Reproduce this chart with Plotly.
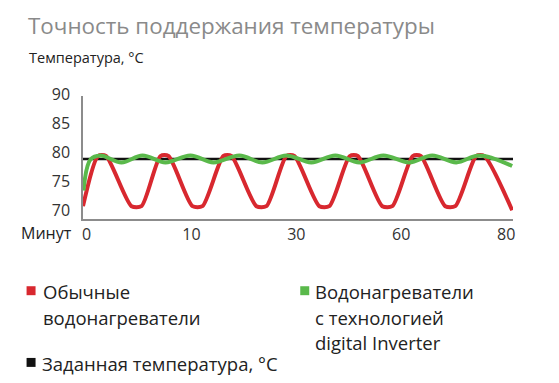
import plotly.graph_objects as go

# ---------------- data ----------------
title_text = "Точность поддержания температуры"
y_title = "Температура, °C"
x_title = "Минут"

tick_pos = [0, 20, 40, 60, 80]
tick_text = ["0", "10", "30", "60", "80"]
y_ticks = [70, 75, 80, 85, 90]

setpoint_x = [-0.67, 81.3]
setpoint_y = [79.2, 79.2]

red_x = [-0.67, 2.19, 3.71, 8.57, 10.48, 14.10, 15.62, 20.19, 22.10, 26.10, 27.62,
         32.38, 34.29, 38.10, 39.62, 44.38, 46.29, 50.19, 51.71, 56.38, 58.29,
         62.19, 63.71, 68.38, 70.29, 74.29, 75.81, 81.14]
red_y = [71.1, 79.7, 79.7, 71.1, 71.1, 79.7, 79.7, 71.1, 71.1, 79.7, 79.7,
         71.1, 71.1, 79.7, 79.7, 71.1, 71.1, 79.7, 79.7, 71.1, 71.1,
         79.7, 79.7, 71.1, 71.1, 79.7, 79.7, 70.4]

green_x = [-0.57, 0.76, 2.67, 6.67, 10.67, 15.05, 19.81, 24.19, 29.14, 33.52, 38.10,
           42.86, 47.43, 52.0, 56.57, 61.52, 65.90, 70.48, 74.86, 81.14]
green_y = [73.8, 79.1, 79.8, 78.6, 79.8, 78.6, 79.8, 78.6, 79.8, 78.6, 79.8,
           78.6, 79.8, 78.6, 79.8, 78.6, 79.8, 78.6, 79.8, 78.0]

legend_red_lines = ["Обычные", "водонагреватели"]
legend_green_lines = ["Водонагреватели", "с технологией", "digital Inverter"]
legend_black_lines = ["Заданная температура, °C"]

RED = "#d8282f"
GREEN = "#5ab94b"
BLACK = "#111111"

# ---------------- layout geometry (page pixels) ----------------
PAGE_W, PAGE_H = 559, 383
OFF = 8  # default page body margin
WIDTH, HEIGHT = PAGE_W - OFF, PAGE_H - OFF
L, R_EDGE, T, B = 82.5, 513, 96, 219.5   # plot area in page pixels
PW, PH = R_EDGE - L, B - T

def px(x):
    return (x - L) / PW

def py(y):
    return (B - y) / PH

FONT = "Open Sans, Noto Sans, sans-serif"
TXT = "#222222"
LEG_SIZE = 18.5
LINE_GAP = 26

fig = go.Figure()
fig.add_trace(go.Scatter(x=setpoint_x, y=setpoint_y, mode="lines",
                         line=dict(color=BLACK, width=2.5), hoverinfo="skip"))
fig.add_trace(go.Scatter(x=red_x, y=red_y, mode="lines",
                         line=dict(color=RED, width=4, shape="spline", smoothing=0.7)))
fig.add_trace(go.Scatter(x=green_x, y=green_y, mode="lines",
                         line=dict(color=GREEN, width=4, shape="spline", smoothing=1.0)))

annotations = [
    dict(text=title_text, x=px(26), y=py(8.5), xanchor="left", yanchor="top",
         borderpad=0, font=dict(size=22.4, color="#8a8a8a")),
    dict(text=y_title, x=px(26), y=py(57), xanchor="left", yanchor="middle",
         font=dict(size=14.5, color=TXT)),
    dict(text=x_title, x=px(73), y=py(234), xanchor="right", yanchor="middle",
         font=dict(size=16, color=TXT)),
]
for lines, x0, y0 in [(legend_red_lines, 40, 292), (legend_green_lines, 313, 292),
                      (legend_black_lines, 39, 365)]:
    for i, t in enumerate(lines):
        annotations.append(dict(text=t, x=px(x0), y=py(y0 + i * LINE_GAP),
                                xanchor="left", yanchor="middle", align="left",
                                font=dict(size=LEG_SIZE, color=TXT)))
for a in annotations:
    a.update(xref="paper", yref="paper", showarrow=False)

shapes = []
for (x0, y0, c) in [(26, 287, RED), (300, 287, GREEN), (26, 359, BLACK)]:
    shapes.append(dict(type="rect", xref="paper", yref="paper",
                       x0=px(x0), x1=px(x0 + 9), y0=py(y0), y1=py(y0 + 9),
                       fillcolor=c, line=dict(width=0)))

fig.update_layout(
    width=WIDTH, height=HEIGHT,
    margin=dict(l=L - OFF, r=PAGE_W - R_EDGE, t=T - OFF, b=PAGE_H - B),
    paper_bgcolor="white", plot_bgcolor="white",
    showlegend=False,
    font=dict(family=FONT, color="#333333"),
    annotations=annotations,
    shapes=shapes,
    xaxis=dict(range=[-0.67, 81.3], tickvals=tick_pos, ticktext=tick_text,
               showgrid=False, zeroline=False, showline=True, linecolor="#8c8c8c",
               linewidth=1.5, ticks="", tickfont=dict(size=16, color="#333333"),
               ticklabelstandoff=0, fixedrange=True),
    yaxis=dict(range=[68.9, 90.0], tickvals=y_ticks,
               showgrid=False, zeroline=False, showline=True, linecolor="#8c8c8c",
               linewidth=1.5, ticks="", tickfont=dict(size=16, color="#333333"),
               ticklabelstandoff=8, ticklabelshift=-2, fixedrange=True),
)

fig.write_html("out.html")
